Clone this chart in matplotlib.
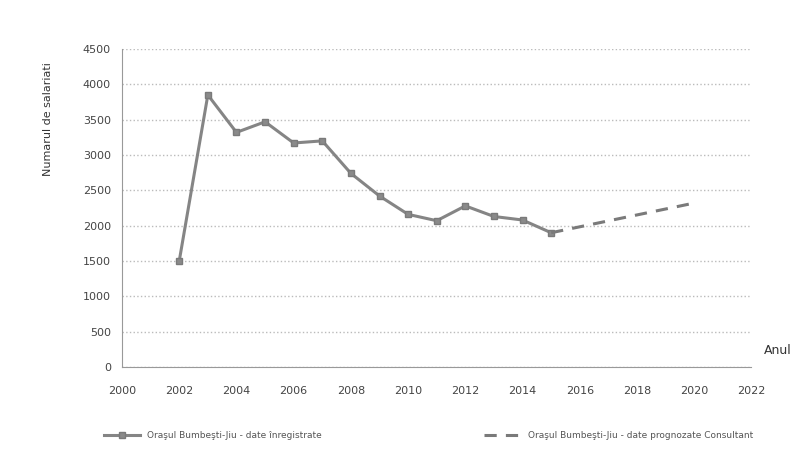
import matplotlib.pyplot as plt

years = [2002, 2003, 2004, 2005, 2006, 2007, 2008, 2009, 2010, 2011, 2012, 2013, 2014, 2015]
salariati = [1500, 3850, 3320, 3470, 3170, 3200, 2740, 2420, 2160, 2070, 2280, 2130, 2080, 1900]

years_prog = [2015, 2020]
salariati_prog = [1900, 2320]

x_ticks = list(range(2000, 2023, 2))
y_ticks = list(range(0, 4501, 500))

fig = plt.figure(figsize=(8.08, 4.69), dpi=100)
ax = fig.add_axes([0.151, 0.2175, 0.779, 0.678])

ax.plot(years, salariati, color='#858585', lw=2.2, marker='s', ms=5,
        mfc='#8a8a8a', mec='#7a7a7a', label='Oraşul Bumbeşti-Jiu - date înregistrate')
ax.plot(years_prog, salariati_prog, color='#7a7a7a', lw=2.2, ls=(0, (4, 3)),
        label='Oraşul Bumbeşti-Jiu - date prognozate Consultant')

ax.set_xlim(2000, 2022)
ax.set_ylim(0, 4500)
ax.set_xticks(x_ticks)
ax.set_yticks(y_ticks)
ax.tick_params(labelsize=8, colors='#444444', length=0, pad=8)
ax.tick_params(axis='x', pad=14)
ax.grid(axis='y', color='#bbbbbb', ls=':', lw=1)

for s in ['top', 'right']:
    ax.spines[s].set_visible(False)
ax.spines['left'].set_color('#999999')
ax.spines['bottom'].set_color('#999999')

ax.set_ylabel('Numarul de salariati', fontsize=8, color='#333333', labelpad=30)
ax.yaxis.set_label_coords(-0.11, 0.78)
fig.text(0.945, 0.245, 'Anul', fontsize=9, color='#333333')

fig.legend(loc='lower center', bbox_to_anchor=(0.53, 0.045), ncol=2, frameon=False,
           fontsize=6.5, handlelength=4, columnspacing=18, labelcolor='#555555')

fig.savefig('out.png', dpi=100)
